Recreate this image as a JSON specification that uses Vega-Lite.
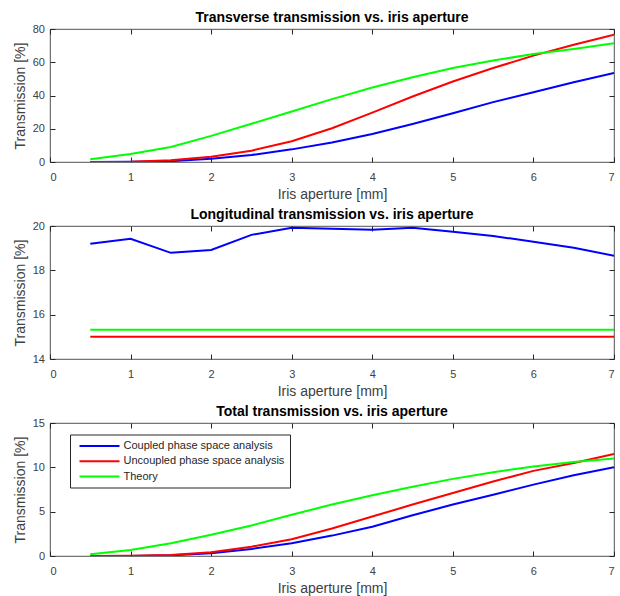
{
  "$schema": "https://vega.github.io/schema/vega-lite/v6.json",
  "padding": {"left": 12, "top": 10, "right": 0, "bottom": 0},
  "spacing": 5,
  "config": {
    "font": "Liberation Sans",
    "view": {"stroke": "#262626", "strokeWidth": 0.8},
    "axis": {
      "grid": false, "domain": false, "tickColor": "#262626", "tickSize": -5,
      "labelColor": "#404040", "labelFontSize": 11,
      "titleColor": "#404040", "titleFontSize": 14, "titleFontWeight": "normal", "titlePadding": 5
    },
    "axisX": {"labelPadding": 14, "titlePadding": 5},
    "axisY": {"labelPadding": 10.5},
    "title": {"fontSize": 14, "fontWeight": "bold", "color": "#000000", "offset": -2},
    "line": {"strokeWidth": 2}
  },
  "datasets": {
    "trans": [
      {"x":0.5,"s":"Coupled phase space analysis","v":0},{"x":1,"s":"Coupled phase space analysis","v":0.1},{"x":1.5,"s":"Coupled phase space analysis","v":0.5},{"x":2,"s":"Coupled phase space analysis","v":2},{"x":2.5,"s":"Coupled phase space analysis","v":4.2},{"x":3,"s":"Coupled phase space analysis","v":7.6},{"x":3.5,"s":"Coupled phase space analysis","v":11.7},{"x":4,"s":"Coupled phase space analysis","v":16.9},{"x":4.5,"s":"Coupled phase space analysis","v":22.9},{"x":5,"s":"Coupled phase space analysis","v":29.3},{"x":5.5,"s":"Coupled phase space analysis","v":36},{"x":6,"s":"Coupled phase space analysis","v":42},{"x":6.5,"s":"Coupled phase space analysis","v":48},{"x":7,"s":"Coupled phase space analysis","v":53.5},
      {"x":0.5,"s":"Uncoupled phase space analysis","v":0},{"x":1,"s":"Uncoupled phase space analysis","v":0.2},{"x":1.5,"s":"Uncoupled phase space analysis","v":1},{"x":2,"s":"Uncoupled phase space analysis","v":3.2},{"x":2.5,"s":"Uncoupled phase space analysis","v":6.8},{"x":3,"s":"Uncoupled phase space analysis","v":12.5},{"x":3.5,"s":"Uncoupled phase space analysis","v":20.3},{"x":4,"s":"Uncoupled phase space analysis","v":29.7},{"x":4.5,"s":"Uncoupled phase space analysis","v":39.4},{"x":5,"s":"Uncoupled phase space analysis","v":48.4},{"x":5.5,"s":"Uncoupled phase space analysis","v":56.5},{"x":6,"s":"Uncoupled phase space analysis","v":64},{"x":6.5,"s":"Uncoupled phase space analysis","v":70.5},{"x":7,"s":"Uncoupled phase space analysis","v":76.6},
      {"x":0.5,"s":"Theory","v":1.6},{"x":1,"s":"Theory","v":4.8},{"x":1.5,"s":"Theory","v":9},{"x":2,"s":"Theory","v":15.7},{"x":2.5,"s":"Theory","v":23},{"x":3,"s":"Theory","v":30.4},{"x":3.5,"s":"Theory","v":37.8},{"x":4,"s":"Theory","v":44.8},{"x":4.5,"s":"Theory","v":51},{"x":5,"s":"Theory","v":56.5},{"x":5.5,"s":"Theory","v":61},{"x":6,"s":"Theory","v":65},{"x":6.5,"s":"Theory","v":68},{"x":7,"s":"Theory","v":71.4}
    ],
    "longi": [
      {"x":0.5,"s":"Coupled phase space analysis","v":19.2},{"x":1,"s":"Coupled phase space analysis","v":19.42},{"x":1.5,"s":"Coupled phase space analysis","v":18.79},{"x":2,"s":"Coupled phase space analysis","v":18.92},{"x":2.5,"s":"Coupled phase space analysis","v":19.6},{"x":3,"s":"Coupled phase space analysis","v":19.92},{"x":3.5,"s":"Coupled phase space analysis","v":19.88},{"x":4,"s":"Coupled phase space analysis","v":19.83},{"x":4.5,"s":"Coupled phase space analysis","v":19.92},{"x":5,"s":"Coupled phase space analysis","v":19.74},{"x":5.5,"s":"Coupled phase space analysis","v":19.55},{"x":6,"s":"Coupled phase space analysis","v":19.29},{"x":6.5,"s":"Coupled phase space analysis","v":19.02},{"x":7,"s":"Coupled phase space analysis","v":18.66},
      {"x":0.5,"s":"Uncoupled phase space analysis","v":15},{"x":7,"s":"Uncoupled phase space analysis","v":15},
      {"x":0.5,"s":"Theory","v":15.32},{"x":7,"s":"Theory","v":15.32}
    ],
    "total": [
      {"x":0.5,"s":"Coupled phase space analysis","v":0},{"x":1,"s":"Coupled phase space analysis","v":0.01},{"x":1.5,"s":"Coupled phase space analysis","v":0.08},{"x":2,"s":"Coupled phase space analysis","v":0.3},{"x":2.5,"s":"Coupled phase space analysis","v":0.8},{"x":3,"s":"Coupled phase space analysis","v":1.45},{"x":3.5,"s":"Coupled phase space analysis","v":2.3},{"x":4,"s":"Coupled phase space analysis","v":3.3},{"x":4.5,"s":"Coupled phase space analysis","v":4.6},{"x":5,"s":"Coupled phase space analysis","v":5.8},{"x":5.5,"s":"Coupled phase space analysis","v":6.9},{"x":6,"s":"Coupled phase space analysis","v":8.05},{"x":6.5,"s":"Coupled phase space analysis","v":9.1},{"x":7,"s":"Coupled phase space analysis","v":10},
      {"x":0.5,"s":"Uncoupled phase space analysis","v":0},{"x":1,"s":"Uncoupled phase space analysis","v":0.02},{"x":1.5,"s":"Uncoupled phase space analysis","v":0.1},{"x":2,"s":"Uncoupled phase space analysis","v":0.42},{"x":2.5,"s":"Uncoupled phase space analysis","v":1.05},{"x":3,"s":"Uncoupled phase space analysis","v":1.9},{"x":3.5,"s":"Uncoupled phase space analysis","v":3.1},{"x":4,"s":"Uncoupled phase space analysis","v":4.45},{"x":4.5,"s":"Uncoupled phase space analysis","v":5.8},{"x":5,"s":"Uncoupled phase space analysis","v":7.1},{"x":5.5,"s":"Uncoupled phase space analysis","v":8.4},{"x":6,"s":"Uncoupled phase space analysis","v":9.6},{"x":6.5,"s":"Uncoupled phase space analysis","v":10.5},{"x":7,"s":"Uncoupled phase space analysis","v":11.5},
      {"x":0.5,"s":"Theory","v":0.19},{"x":1,"s":"Theory","v":0.68},{"x":1.5,"s":"Theory","v":1.44},{"x":2,"s":"Theory","v":2.39},{"x":2.5,"s":"Theory","v":3.45},{"x":3,"s":"Theory","v":4.66},{"x":3.5,"s":"Theory","v":5.8},{"x":4,"s":"Theory","v":6.86},{"x":4.5,"s":"Theory","v":7.8},{"x":5,"s":"Theory","v":8.7},{"x":5.5,"s":"Theory","v":9.45},{"x":6,"s":"Theory","v":10.1},{"x":6.5,"s":"Theory","v":10.6},{"x":7,"s":"Theory","v":11}
    ]
  },
  "resolve": {"scale": {"color": "independent"}},
  "vconcat": [
    {
      "title": "Transverse transmission vs. iris aperture",
      "width": 564, "height": 133,
      "data": {"name": "trans"},
      "resolve": {"axis": {"x": "independent", "y": "independent"}},
      "layer": [
        {
          "mark": {"type": "line", "clip": true},
          "encoding": {
            "x": {"field": "x", "type": "quantitative", "scale": {"domain": [0, 7], "nice": false}, "axis": {"values": [0,1,2,3,4,5,6,7], "title": "Iris aperture [mm]"}},
            "y": {"field": "v", "type": "quantitative", "scale": {"domain": [0, 80], "nice": false}, "axis": {"values": [0,20,40,60,80], "title": "Transmission [%]"}},
            "color": {"field": "s", "type": "nominal", "scale": {"domain": ["Coupled phase space analysis","Uncoupled phase space analysis","Theory"], "range": ["#0000FF","#FF0000","#00FF00"]}, "legend": null}
          }
        },
        {
          "mark": {"type": "line", "strokeOpacity": 0},
          "encoding": {
            "x": {"field": "x", "type": "quantitative", "scale": {"domain": [0, 7], "nice": false}, "axis": {"orient": "top", "values": [0,1,2,3,4,5,6,7], "labels": false, "title": null}},
            "y": {"field": "v", "type": "quantitative", "scale": {"domain": [0, 80], "nice": false}, "axis": {"orient": "right", "values": [0,20,40,60,80], "labels": false, "title": null}}
          }
        }
      ]
    },
    {
      "title": "Longitudinal transmission vs. iris aperture",
      "width": 564, "height": 133,
      "data": {"name": "longi"},
      "resolve": {"axis": {"x": "independent", "y": "independent"}},
      "layer": [
        {
          "mark": {"type": "line", "clip": true},
          "encoding": {
            "x": {"field": "x", "type": "quantitative", "scale": {"domain": [0, 7], "nice": false}, "axis": {"values": [0,1,2,3,4,5,6,7], "title": "Iris aperture [mm]"}},
            "y": {"field": "v", "type": "quantitative", "scale": {"domain": [14, 20], "nice": false, "zero": false}, "axis": {"values": [14,16,18,20], "title": "Transmission [%]"}},
            "color": {"field": "s", "type": "nominal", "scale": {"domain": ["Coupled phase space analysis","Uncoupled phase space analysis","Theory"], "range": ["#0000FF","#FF0000","#00FF00"]}, "legend": null}
          }
        },
        {
          "mark": {"type": "line", "strokeOpacity": 0},
          "encoding": {
            "x": {"field": "x", "type": "quantitative", "scale": {"domain": [0, 7], "nice": false}, "axis": {"orient": "top", "values": [0,1,2,3,4,5,6,7], "labels": false, "title": null}},
            "y": {"field": "v", "type": "quantitative", "scale": {"domain": [14, 20], "nice": false, "zero": false}, "axis": {"orient": "right", "values": [14,16,18,20], "labels": false, "title": null}}
          }
        }
      ]
    },
    {
      "title": "Total transmission vs. iris aperture",
      "width": 564, "height": 133,
      "data": {"name": "total"},
      "resolve": {"axis": {"x": "independent", "y": "independent"}},
      "layer": [
        {
          "mark": {"type": "line", "clip": true},
          "encoding": {
            "x": {"field": "x", "type": "quantitative", "scale": {"domain": [0, 7], "nice": false}, "axis": {"values": [0,1,2,3,4,5,6,7], "title": "Iris aperture [mm]"}},
            "y": {"field": "v", "type": "quantitative", "scale": {"domain": [0, 15], "nice": false}, "axis": {"values": [0,5,10,15], "title": "Transmission [%]"}},
            "color": {"field": "s", "type": "nominal", "scale": {"domain": ["Coupled phase space analysis","Uncoupled phase space analysis","Theory"], "range": ["#0000FF","#FF0000","#00FF00"]},
              "legend": {"title": null, "orient": "none", "legendX": 20, "legendY": 11.5, "symbolType": "M-4,0H4", "symbolSize": 100, "symbolStrokeWidth": 2, "symbolOffset": 18, "labelOffset": 18, "labelLimit": 300, "labelFontSize": 11, "labelColor": "#262626", "strokeColor": "#262626", "fillColor": "#FFFFFF", "padding": 5.5, "rowPadding": 4.3}}
          }
        },
        {
          "mark": {"type": "line", "strokeOpacity": 0},
          "encoding": {
            "x": {"field": "x", "type": "quantitative", "scale": {"domain": [0, 7], "nice": false}, "axis": {"orient": "top", "values": [0,1,2,3,4,5,6,7], "labels": false, "title": null}},
            "y": {"field": "v", "type": "quantitative", "scale": {"domain": [0, 15], "nice": false}, "axis": {"orient": "right", "values": [0,5,10,15], "labels": false, "title": null}}
          }
        }
      ]
    }
  ]
}
